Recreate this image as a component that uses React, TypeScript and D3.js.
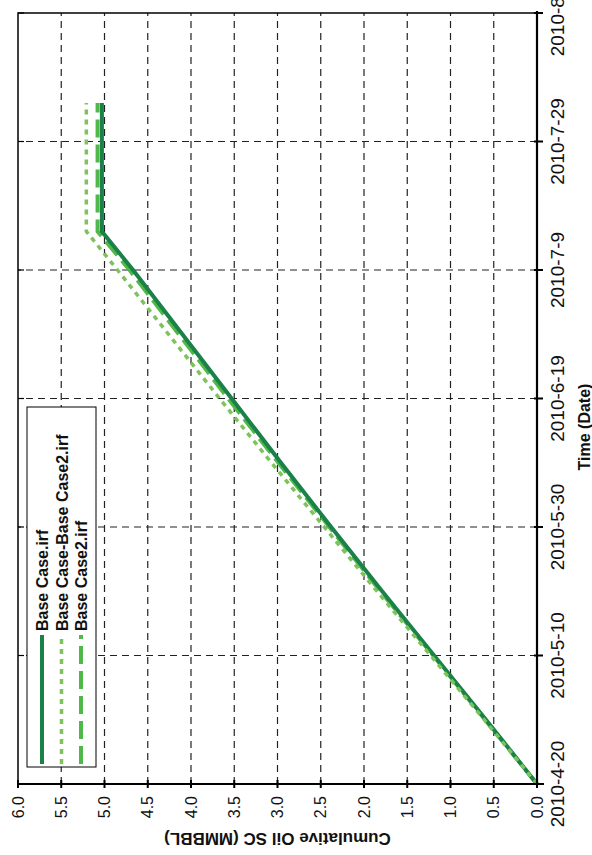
import React from "react";
import * as d3 from "d3";

const W = 592;
const H = 855;

// Time axis ticks (20-day spacing)
const dateTicks = ["2010-4-20", "2010-5-10", "2010-5-30", "2010-6-19", "2010-7-9", "2010-7-29", "2010-8-18"];
const valueTicks = [0, 0.5, 1, 1.5, 2, 2.5, 3, 3.5, 4, 4.5, 5, 5.5, 6];

const seriesNames = ["Base Case.irf", "Base Case-Base Case2.irf", "Base Case2.irf"];

const baseCaseDates = ["2010-4-20", "2010-4-30", "2010-5-10", "2010-5-20", "2010-5-30", "2010-6-9", "2010-6-19", "2010-6-29", "2010-7-9", "2010-7-15", "2010-8-4"];
const baseCaseValues = [0, 0.59, 1.19, 1.79, 2.38, 2.96, 3.53, 4.1, 4.67, 5.03, 5.03];

const diffDates = ["2010-4-20", "2010-4-30", "2010-5-10", "2010-5-20", "2010-5-30", "2010-6-9", "2010-6-19", "2010-6-29", "2010-7-9", "2010-7-15", "2010-8-4"];
const diffValues = [0, 0.61, 1.23, 1.85, 2.46, 3.07, 3.67, 4.26, 4.85, 5.21, 5.21];

const baseCase2Dates = ["2010-4-20", "2010-4-30", "2010-5-10", "2010-5-20", "2010-5-30", "2010-6-9", "2010-6-19", "2010-6-29", "2010-7-9", "2010-7-15", "2010-8-4"];
const baseCase2Values = [0, 0.6, 1.2, 1.81, 2.4, 2.99, 3.57, 4.14, 4.71, 5.08, 5.08];

const parse = (s: string) => {
  const [y, m, d] = s.split("-").map(Number);
  return new Date(y, m - 1, d);
};

const FONT = "'Liberation Sans', Arial, sans-serif";

export default function App() {
  // chart drawn in its natural orientation, then rotated -90 degrees
  const x = d3.scaleTime().domain([parse(dateTicks[0]), parse(dateTicks[dateTicks.length - 1])]).range([71, 842]);
  const y = d3.scaleLinear().domain([0, 6]).range([537, 18]);
  const [x0, x1] = x.range();
  const [y0, y1] = y.range();

  const line = d3
    .line<[Date, number]>()
    .x((d) => x(d[0]))
    .y((d) => y(d[1]));

  const mk = (ds: string[], vs: number[]) => ds.map((s, i) => [parse(s), vs[i]] as [Date, number]);

  const series = [
    { name: seriesNames[2], data: mk(baseCase2Dates, baseCase2Values), color: "#4fb848", width: 4, dash: "18,7" },
    { name: seriesNames[0], data: mk(baseCaseDates, baseCaseValues), color: "#1a8249", width: 4, dash: "" },
    { name: seriesNames[1], data: mk(diffDates, diffValues), color: "#7cc35b", width: 3.5, dash: "5,5" },
  ];
  const legendOrder = [series[1], series[2], series[0]];

  const grid = "7,5";

  return (
    <svg width={W} height={H} style={{ position: "absolute", left: 0, top: 0, background: "#fff" }}>
      <rect x={0} y={0} width={W} height={H} fill="#fff" />
      <g transform={`translate(0,${H}) rotate(-90)`} fontFamily={FONT}>
        {/* grid lines */}
        {valueTicks.slice(1, -1).map((v) => (
          <line key={"gv" + v} x1={x0} x2={x1} y1={y(v)} y2={y(v)} stroke="#222" strokeWidth={1.2} strokeDasharray={grid} />
        ))}
        {dateTicks.slice(1, -1).map((s) => (
          <line key={"gd" + s} x1={x(parse(s))} x2={x(parse(s))} y1={y0} y2={y1} stroke="#222" strokeWidth={1.2} strokeDasharray={grid} />
        ))}

        {/* series */}
        {series.map((s) => (
          <path key={s.name} d={line(s.data) || ""} fill="none" stroke={s.color} strokeWidth={s.width} strokeDasharray={s.dash} />
        ))}

        {/* frame */}
        <rect x={x0} y={y1} width={x1 - x0} height={y0 - y1} fill="none" stroke="#000" strokeWidth={1.5} />
        <line x1={x0} x2={x1 + 2} y1={y0} y2={y0} stroke="#000" strokeWidth={2.2} />
        <line x1={x0} x2={x0} y1={y1} y2={y0 + 7} stroke="#000" strokeWidth={2.2} />

        {/* date ticks and labels */}
        {dateTicks.map((s) => {
          const px = x(parse(s));
          return (
            <g key={"dt" + s}>
              <line x1={px} x2={px} y1={y0 - 3} y2={y0 + 6} stroke="#000" strokeWidth={2} />
              <line x1={px} x2={px} y1={y1} y2={y1 + 6} stroke="#000" strokeWidth={1.2} />
              <text x={px} y={y0 + 27} textAnchor="middle" fontSize={19} fill="#111">
                {s}
              </text>
            </g>
          );
        })}

        {/* value ticks and labels */}
        {valueTicks.map((v) => {
          const py = y(v);
          return (
            <g key={"vt" + v}>
              <line x1={x0 - 4} x2={x0 + 4} y1={py} y2={py} stroke="#000" strokeWidth={2} />
              <text x={x0 - 12} y={py} dy="0.35em" textAnchor="end" fontSize={16} fill="#111">
                {v.toFixed(1)}
              </text>
            </g>
          );
        })}

        {/* axis titles */}
        <text x={428} y={590} textAnchor="middle" fontSize={16} fontWeight="bold" fill="#111">
          Time (Date)
        </text>
        <text transform={`translate(22,${277.5}) rotate(-90)`} textAnchor="middle" fontSize={17} fontWeight="bold" fill="#111">
          Cumulative Oil SC (MMBBL)
        </text>

        {/* legend */}
        <rect x={88} y={27} width={360} height={69} fill="#fff" stroke="#000" strokeWidth={1} />
        {legendOrder.map((s, i) => {
          const ly = 42 + i * 19.5;
          return (
            <g key={"lg" + s.name}>
              <line x1={91} x2={220} y1={ly} y2={ly} stroke={s.color} strokeWidth={s.width} strokeDasharray={s.dash} />
              <text x={224} y={ly + 6} fontSize={16} fontWeight="bold" fill="#111">
                {s.name}
              </text>
            </g>
          );
        })}
      </g>
    </svg>
  );
}
